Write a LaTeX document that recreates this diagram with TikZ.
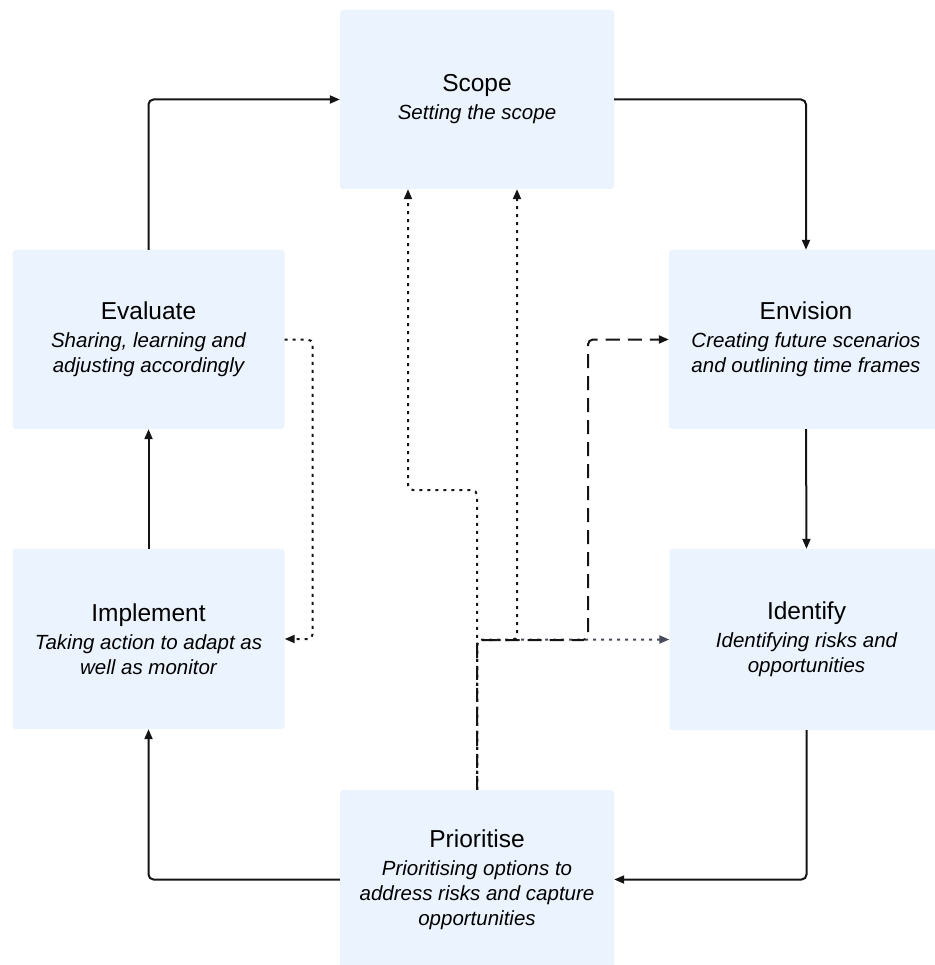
\documentclass[tikz,border=0pt]{standalone}
\usepackage{fontspec}
\setmainfont{Liberation Sans}
\usetikzlibrary{arrows.meta,calc}
\definecolor{boxfill}{RGB}{235,243,254}
\definecolor{lineblack}{RGB}{20,20,20}
\definecolor{tipgray}{RGB}{70,76,90}
\tikzset{
  box/.style={fill=boxfill, rounded corners=3pt, minimum width=274pt, minimum height=179pt,
    inner sep=0pt, align=center, text=black, font=\fontsize{20.5}{25}\selectfont\itshape},
  flow/.style={draw=lineblack, line width=2pt, rounded corners=5pt, -{Triangle[length=10pt,width=8pt]}},
  dotflow/.style={flow, dash pattern=on 3pt off 5pt},
  dashflow/.style={flow, dash pattern=on 14pt off 8pt},
}
\newcommand{\btitle}[1]{{\upshape\fontsize{24.5}{28}\selectfont #1}}
\begin{document}
\begin{tikzpicture}[x=1pt,y=-1pt]
\useasboundingbox (0,0) rectangle (934,965);
\node[box] (scope) at (477,99.5) {\btitle{Scope}\\[3pt]Setting the scope};
\node[box, minimum width=272pt] (evaluate) at (148.5,339.5) {\btitle{Evaluate}\\[3pt]Sharing, learning and\\adjusting accordingly};
\node[box, minimum width=272pt, minimum height=180pt] (implement) at (148.5,639) {\btitle{Implement}\\[3pt]Taking action to adapt as\\well as monitor};
\node[box] (envision) at (806,339.5) {\btitle{Envision}\\[3pt]Creating future scenarios\\and outlining time frames};
\node[box, minimum height=181pt] (identify) at (806.5,639.5) {\btitle{Identify}\\[3pt]Identifying risks and\\opportunities};
\node[box] (prioritise) at (477,879.5) {\btitle{Prioritise}\\[3pt]Prioritising options to\\address risks and capture\\opportunities};

\coordinate (a1) at (408,490);
\coordinate (b1) at (517,640);
\coordinate (c1) at (588,640);

% main cycle
\draw[flow] (evaluate.north) |- (scope.west);
\draw[flow] (scope.east) -| (envision.north);
\draw[flow] (envision.south) -- (identify.north);
\draw[flow] (identify.south) |- (prioritise.east);
\draw[flow] (prioritise.west) -| (implement.south);
\draw[flow] (implement.north) -- (evaluate.south);

% feedback
\draw[dotflow] (evaluate.east) -- ++(28,0) |- (implement.east);

% from prioritise
\draw[dotflow, draw=tipgray] (prioritise.north) |- (identify.west);
\draw[dotflow] (prioritise.north) |- (a1) -- (a1 |- scope.south);
\draw[dotflow] (prioritise.north) |- (b1) -- (b1 |- scope.south);
\draw[dashflow] (prioritise.north) |- (c1) |- (envision.west);
\end{tikzpicture}
\end{document}
